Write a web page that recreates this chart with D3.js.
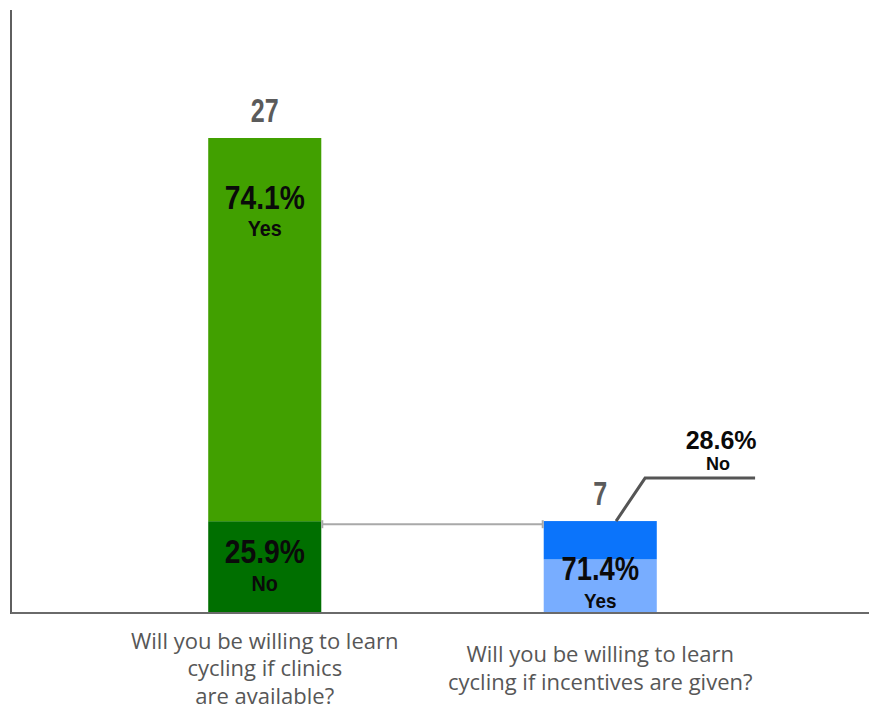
<!DOCTYPE html>
<html>
<head>
<meta charset="utf-8">
<script src="https://cdn.jsdelivr.net/npm/d3@7"></script>
<style>
  html, body { margin: 0; padding: 0; background: #fff; }
  svg { display: block; }
</style>
</head>
<body>
<div id="chart"></div>
<script>
// Survey questions (x categories), split into display lines
const questions = [
  ["Will you be willing to learn", "cycling if clinics", "are available?"],
  ["Will you be willing to learn", "cycling if incentives are given?"]
];
const questionKeys = ["clinics", "incentives"];
// Respondents per question
const totals = [27, 7];
// Answer shares (%)
const yesShare = [74.1, 71.4];
const noShare = [25.9, 28.6];
// Stacking order from the baseline up, per question
const stackOrder = [["No", "Yes"], ["Yes", "No"]];
// Segment colours per question
const colors = [
  { Yes: "#41a000", No: "#006f00" },
  { Yes: "#78adff", No: "#0b74fb" }
];

const W = 869, H = 713;
const svg = d3.select("#chart").append("svg")
  .attr("width", W).attr("height", H);

const baseY = 613, axisX = 11;

const x = d3.scaleBand()
  .domain(questionKeys)
  .range([97, 768])
  .paddingInner(0.663)
  .paddingOuter(0.3315);

const y = d3.scaleLinear()
  .domain([2.2, 27])
  .range([baseY, 138])
  .clamp(true);

// Build stacked segments
const segments = [];
questionKeys.forEach((k, i) => {
  let acc = 0;
  stackOrder[i].forEach(ans => {
    const share = ans === "Yes" ? yesShare[i] : noShare[i];
    const v = totals[i] * share / 100;
    segments.push({ key: k, i, ans, share, y0: acc, y1: acc + v });
    acc += v;
  });
});

svg.append("g").selectAll("rect")
  .data(segments)
  .join("rect")
  .attr("x", d => x(d.key))
  .attr("width", x.bandwidth())
  .attr("y", d => y(d.y1))
  .attr("height", d => y(d.y0) - y(d.y1))
  .attr("fill", d => colors[d.i][d.ans]);

// Axes lines
svg.append("line")
  .attr("x1", axisX).attr("x2", axisX)
  .attr("y1", 10).attr("y2", baseY + 1)
  .attr("stroke", "#5f5f5f").attr("stroke-width", 2);
svg.append("line")
  .attr("x1", axisX).attr("x2", W)
  .attr("y1", baseY).attr("y2", baseY)
  .attr("stroke", "#6a6a6a").attr("stroke-width", 2);

// Connector: "No" segment of the first bar expands into the second bar
const noFirst = segments.find(s => s.i === 0 && s.ans === "No");
const cy = y(noFirst.y1) + 3;
const cx1 = x(questionKeys[0]) + x.bandwidth() + 1;
const cx2 = x(questionKeys[1]) - 1;
const conn = svg.append("g").attr("stroke", "#a9a9a9").attr("stroke-width", 2);
conn.append("line").attr("x1", cx1).attr("x2", cx2).attr("y1", cy).attr("y2", cy);
conn.append("line").attr("x1", cx1).attr("x2", cx1).attr("y1", cy - 4).attr("y2", cy + 4);
conn.append("line").attr("x1", cx2).attr("x2", cx2).attr("y1", cy - 4).attr("y2", cy + 4);

const bold = "'Liberation Sans', Arial, sans-serif";

// Condensed bold label, centred at (cx, baseline)
function condensed(g, cx, by, size, sx, txt, fill) {
  g.append("text")
    .attr("transform", `translate(${cx},${by}) scale(${sx},1)`)
    .attr("text-anchor", "middle")
    .attr("font-family", bold)
    .attr("font-weight", "bold")
    .attr("font-size", size)
    .attr("fill", fill)
    .text(txt);
}

// Totals above bars
const totG = svg.append("g");
questionKeys.forEach((k, i) => {
  condensed(totG, x(k) + x.bandwidth() / 2, y(totals[i]) - 16, 33, 0.76, totals[i], "#5b5b5b");
});

// In-bar share labels
function fmt(v) { return v.toFixed(1) + "%"; }
const inside = segments.filter(s => !(s.i === 1 && s.ans === "No"));
const lbl = svg.append("g");
inside.forEach(s => {
  const cx = x(s.key) + x.bandwidth() / 2;
  const top = y(s.y1), bot = y(s.y0);
  let b1, b2, s1 = 34, s2 = 22;
  if (bot - top > 200) { b1 = top + 71; b2 = top + 98; }
  else if (s.y0 === 0 && s.i === 1) { b1 = bot - 33; b2 = bot - 5; s1 = 33; s2 = 21; }
  else { b1 = bot - 50; b2 = bot - 22; }
  condensed(lbl, cx, b1, s1, 0.83, fmt(s.share), "#0a0a0a");
  condensed(lbl, cx, b2, s2, 0.9, s.ans, "#0a0a0a");
});

// Callout for the thin segment on the second bar
const noSecond = segments.find(s => s.i === 1 && s.ans === "No");
const px = x(questionKeys[1]) + x.bandwidth() * 0.64;
const py = y(noSecond.y1);
svg.append("path")
  .attr("d", `M${px},${py} L${px + 29},${py - 43} L${px + 139},${py - 43}`)
  .attr("fill", "none").attr("stroke", "#555").attr("stroke-width", 3);
svg.append("text")
  .attr("x", px + 105).attr("y", py - 72)
  .attr("text-anchor", "middle").attr("font-family", bold).attr("font-weight", "bold")
  .attr("font-size", 25).attr("fill", "#0a0a0a")
  .text(fmt(noSecond.share));
svg.append("text")
  .attr("x", px + 102).attr("y", py - 51)
  .attr("text-anchor", "middle").attr("font-family", bold).attr("font-weight", "bold")
  .attr("font-size", 18).attr("fill", "#0a0a0a")
  .text(noSecond.ans);

// Category labels under the axis
const lineH = 27.5, midBase = 676;
const xl = svg.append("g").attr("font-family", "'Open Sans', 'DejaVu Sans', sans-serif")
  .attr("font-size", 22).attr("fill", "#575757").attr("text-anchor", "middle");
questionKeys.forEach((k, i) => {
  const lines = questions[i];
  const first = midBase - (lines.length - 1) / 2 * lineH;
  lines.forEach((t, j) => {
    xl.append("text")
      .attr("x", x(k) + x.bandwidth() / 2)
      .attr("y", first + j * lineH)
      .text(t);
  });
});
</script>
</body>
</html>
